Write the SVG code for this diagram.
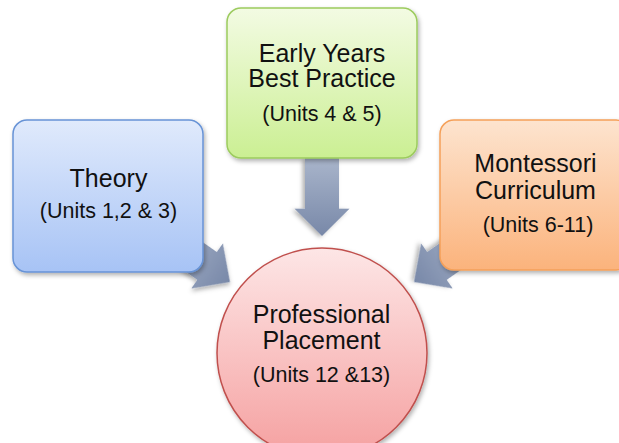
<svg xmlns="http://www.w3.org/2000/svg" width="619" height="443" viewBox="0 0 619 443">
<style>
text{font-family:"Liberation Sans",Arial,sans-serif;fill:#111;text-anchor:middle}
.t{font-size:25px}
.s{font-size:21.5px}
.arrow{fill:url(#ga);filter:url(#sh)}
.box{stroke-width:1.5;filter:url(#sh)}
</style>
<defs>
<linearGradient id="gb" x1="0" y1="0" x2="0" y2="1"><stop offset="0" stop-color="#e0eafc"/><stop offset="1" stop-color="#a7c3f5"/></linearGradient>
<linearGradient id="gg" x1="0" y1="0" x2="0" y2="1"><stop offset="0" stop-color="#f3fbe3"/><stop offset="1" stop-color="#cbef93"/></linearGradient>
<linearGradient id="go" x1="0" y1="0" x2="0" y2="1"><stop offset="0" stop-color="#fde4cf"/><stop offset="1" stop-color="#fbb37c"/></linearGradient>
<linearGradient id="gr" x1="0" y1="0" x2="0" y2="1"><stop offset="0" stop-color="#fde6e6"/><stop offset="1" stop-color="#f5a0a0"/></linearGradient>
<linearGradient id="ga" x1="0" y1="0" x2="1" y2="0"><stop offset="0" stop-color="#a9b5cb"/><stop offset="1" stop-color="#7888a8"/></linearGradient>
<filter id="sh" x="-20%" y="-20%" width="140%" height="140%"><feDropShadow dx="1.5" dy="2.5" stdDeviation="2" flood-color="#000" flood-opacity="0.3"/></filter>
<path id="arr" d="M-80,-17 L-28,-17 L-28,-27.5 L0,0 L-28,27.5 L-28,17 L-80,17 Z"/>
</defs>
<g id="connectors">
<use href="#arr" class="arrow" transform="translate(322,236) rotate(90) scale(0.975,1)"/>
<use href="#arr" class="arrow" transform="translate(230,282) rotate(35)"/>
<use href="#arr" class="arrow" transform="translate(414,282) rotate(145)"/>
</g>
<g id="theory">
<rect class="box" x="13" y="120" width="190" height="152" rx="14" fill="url(#gb)" stroke="#6793d6"/>
<text class="t" x="108.5" y="187">Theory</text>
<text class="s" x="108.5" y="218">(Units 1,2 &amp; 3)</text>
</g>
<g id="early-years">
<rect class="box" x="227" y="8" width="190" height="150" rx="14" fill="url(#gg)" stroke="#9ccb5e"/>
<text class="t" x="322" y="62">Early Years</text>
<text class="t" x="322" y="87">Best Practice</text>
<text class="s" x="322" y="121">(Units 4 &amp; 5)</text>
</g>
<g id="montessori">
<rect class="box" x="440" y="120" width="190" height="150" rx="14" fill="url(#go)" stroke="#f5a059"/>
<text class="t" x="535.5" y="172">Montessori</text>
<text class="t" x="535.5" y="199">Curriculum</text>
<text class="s" x="538" y="232">(Units 6-11)</text>
</g>
<g id="placement">
<circle class="box" cx="322" cy="353" r="105" fill="url(#gr)" stroke="#c0504d"/>
<text class="t" x="321.5" y="323">Professional</text>
<text class="t" x="321.5" y="349">Placement</text>
<text class="s" x="321.5" y="382">(Units 12 &amp;13)</text>
</g>
</svg>
